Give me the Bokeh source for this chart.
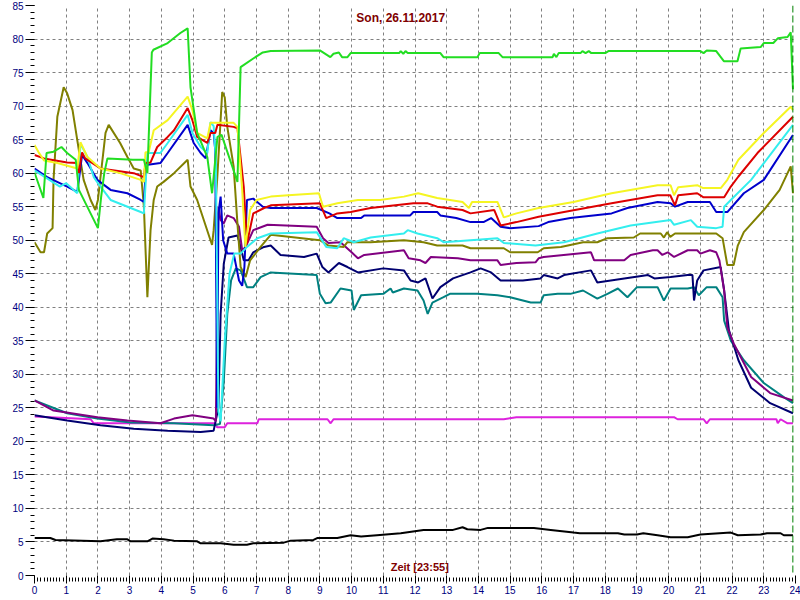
import math
from bokeh.plotting import figure
from bokeh.models import (Range1d, SingleIntervalTicker, FixedTicker, Span, Label)
from bokeh.embed import file_html
from bokeh.resources import INLINE

TITLE = "Son, 26.11.2017"
X_LABEL = "Zeit [23:55]"
Y_LABEL = "°C"
NOW_HOUR = 23 + 55 / 60

# (hour, °C) readings per sensor
green_pts = [(0.0, 60.1), (0.28, 56.3), (0.38, 63.0), (0.6, 63.2), (0.85, 63.9), (1.03, 63.0), (1.3, 62.0),
             (1.4, 57.5), (2.0, 51.8), (2.1, 56.4), (2.2, 60.0), (2.3, 62.2), (3.1, 62.0), (3.45, 62.0),
             (3.56, 60.0), (3.7, 78.0), (3.75, 78.4), (4.2, 79.4), (4.6, 80.9), (4.83, 81.6), (4.92, 72.8),
             (5.13, 66.0), (5.45, 62.4), (5.6, 57.0), (5.77, 65.4), (5.9, 65.7), (6.28, 60.4), (6.4, 58.7),
             (6.5, 75.8), (6.9, 77.1), (7.2, 78.0), (7.45, 78.2), (9.0, 78.3), (9.33, 77.3), (9.43, 77.8),
             (9.6, 78.0), (9.7, 77.3), (9.87, 77.3), (9.97, 77.9), (11.5, 77.9), (11.55, 78.2), (11.63, 77.8),
             (11.7, 78.2), (11.77, 77.9), (12.8, 77.9), (12.9, 77.3), (13.97, 77.3), (14.04, 77.9),
             (14.64, 77.9), (14.76, 77.3), (16.34, 77.3), (16.38, 77.8), (16.46, 77.3), (16.53, 77.9),
             (17.22, 77.9), (17.28, 78.2), (17.38, 77.9), (17.48, 78.2), (17.56, 77.9), (18.0, 77.9),
             (18.1, 78.2), (21.0, 78.2), (21.1, 77.9), (21.2, 78.3), (21.5, 78.2), (21.74, 76.7),
             (22.17, 76.7), (22.27, 78.6), (22.9, 78.8), (23.0, 79.4), (23.3, 79.4), (23.44, 80.1),
             (23.75, 80.3), (23.85, 81.0), (23.92, 72.5)]

yellow_pts = [(0.0, 64.2), (0.13, 63.1), (0.3, 61.9), (0.72, 61.5), (1.35, 60.7), (1.45, 64.6), (1.67, 62.4),
              (2.08, 60.7), (2.7, 60.0), (3.35, 59.0), (3.45, 58.7), (3.5, 63.1), (3.6, 63.1), (3.76, 66.4),
              (4.2, 67.9), (4.83, 71.4), (4.98, 69.4), (5.13, 66.0), (5.45, 65.2), (5.55, 67.5), (5.87, 67.5),
              (6.28, 67.5), (6.4, 66.9), (6.55, 57.5), (6.65, 49.0), (6.8, 54.5), (7.0, 56.0), (7.45, 56.5),
              (8.0, 56.7), (8.97, 57.0), (9.1, 55.0), (9.55, 55.5), (10.2, 56.0), (10.9, 56.0), (11.65, 56.5),
              (12.1, 57.0), (12.7, 56.3), (13.5, 55.7), (13.7, 54.8), (13.8, 55.7), (14.6, 55.7), (14.8, 53.4),
              (15.2, 54.0), (15.9, 54.8), (17.0, 55.7), (18.2, 57.0), (19.65, 58.2), (20.06, 58.2),
              (20.17, 56.7), (20.3, 57.9), (20.9, 58.2), (21.07, 57.8), (21.65, 57.8), (21.85, 59.0),
              (22.2, 62.0), (23.0, 66.0), (23.85, 69.9), (23.92, 69.4)]

red_pts = [(0.0, 62.7), (0.3, 62.2), (1.03, 61.6), (1.35, 61.5), (1.4, 60.0), (1.5, 63.1), (1.6, 62.2),
           (2.08, 60.7), (3.13, 60.0), (3.45, 59.4), (3.5, 61.5), (3.66, 61.6), (3.87, 63.9), (4.2, 65.4),
           (4.4, 66.4), (4.83, 69.7), (4.98, 67.9), (5.13, 65.4), (5.45, 64.5), (5.55, 66.0), (5.7, 66.0),
           (5.77, 67.2), (6.28, 66.9), (6.4, 66.7), (6.6, 57.9), (6.7, 49.5), (6.9, 54.0), (7.24, 54.8),
           (7.45, 55.2), (9.0, 55.5), (9.2, 53.3), (9.55, 54.0), (9.97, 54.2), (10.6, 54.8), (11.95, 55.5),
           (12.4, 55.5), (12.7, 55.0), (13.5, 54.5), (13.75, 54.0), (14.5, 54.5), (14.7, 52.2), (15.2, 52.7),
           (15.9, 53.5), (16.7, 54.2), (18.2, 55.5), (19.65, 56.7), (20.05, 56.7), (20.2, 55.2), (20.3, 56.7),
           (20.9, 57.0), (21.1, 56.4), (21.75, 56.4), (21.96, 58.0), (22.2, 59.5), (22.8, 63.0), (23.92, 68.4)]

cyan_pts = [(0.0, 60.4), (0.8, 58.0), (1.0, 58.5), (1.35, 57.0), (1.45, 64.4), (1.67, 62.4), (1.87, 59.4),
            (2.0, 58.5), (2.4, 56.0), (3.35, 54.2), (3.45, 54.0), (3.56, 63.0), (3.97, 63.0), (4.2, 64.5),
            (4.83, 68.7), (4.98, 66.0), (5.24, 63.9), (5.45, 63.0), (5.55, 67.6), (5.65, 67.0), (5.72, 62.0),
            (5.8, 24.5), (5.87, 23.0), (6.0, 35.0), (6.15, 45.0), (6.3, 48.0), (6.5, 48.0), (6.7, 49.0),
            (7.03, 50.3), (7.45, 51.0), (8.9, 51.2), (9.2, 49.0), (9.55, 48.8), (9.75, 50.3), (10.07, 49.7),
            (10.6, 50.4), (11.65, 51.0), (11.77, 51.5), (12.08, 51.0), (12.7, 50.3), (12.9, 49.7),
            (14.6, 50.3), (14.8, 49.6), (15.8, 49.2), (16.7, 49.7), (17.75, 51.0), (18.8, 52.2),
            (20.06, 53.0), (20.17, 52.3), (20.7, 53.0), (20.9, 52.0), (21.5, 51.8), (21.7, 52.0),
            (21.75, 55.0), (21.96, 56.0), (22.6, 59.0), (23.92, 67.2)]

blue_pts = [(0.0, 60.7), (0.4, 59.4), (1.03, 58.0), (1.35, 57.2), (1.5, 62.7), (1.67, 61.5), (1.98, 59.0),
            (2.4, 57.5), (2.93, 57.0), (3.35, 56.0), (3.45, 55.7), (3.52, 61.2), (3.97, 61.5), (4.2, 63.0),
            (4.83, 67.2), (5.02, 64.5), (5.24, 63.0), (5.4, 62.2), (5.55, 66.4), (5.65, 66.0), (5.7, 63.4),
            (5.76, 25.0), (5.8, 54.0), (5.87, 56.5), (5.95, 50.0), (6.08, 48.0), (6.28, 48.0), (6.45, 44.0),
            (6.55, 43.2), (6.62, 46.0), (6.7, 56.0), (6.9, 56.2), (7.2, 55.0), (7.45, 54.8), (8.9, 54.8),
            (9.3, 54.0), (9.55, 53.3), (10.3, 53.3), (10.4, 53.7), (11.85, 53.7), (11.95, 54.2), (12.7, 54.2),
            (12.8, 53.7), (13.3, 53.3), (13.75, 52.7), (14.16, 52.7), (14.4, 53.3), (14.7, 52.0), (15.0, 51.8),
            (15.9, 52.1), (16.2, 52.7), (16.9, 53.3), (18.2, 54.0), (18.7, 54.8), (19.65, 55.7), (20.06, 55.5),
            (20.2, 55.0), (20.6, 55.7), (21.3, 55.7), (21.5, 54.2), (21.85, 54.2), (22.37, 57.0), (23.0, 59.0),
            (23.92, 65.7)]

olive_pts = [(0.0, 49.7), (0.19, 48.2), (0.3, 48.2), (0.4, 51.0), (0.57, 51.8), (0.6, 59.0), (0.72, 68.4),
             (0.92, 72.8), (1.03, 71.9), (1.2, 69.4), (1.4, 63.4), (1.55, 59.0), (1.77, 56.0), (1.92, 54.5),
             (2.0, 56.0), (2.24, 66.0), (2.34, 67.2), (2.7, 64.5), (2.93, 62.4), (3.13, 60.7), (3.35, 60.4),
             (3.45, 55.0), (3.56, 41.5), (3.66, 51.5), (3.76, 56.0), (3.87, 58.0), (4.07, 58.7), (4.4, 60.0),
             (4.83, 62.0), (4.92, 58.0), (5.13, 56.0), (5.55, 50.0), (5.6, 49.3), (5.65, 51.5), (5.76, 59.0),
             (5.92, 72.1), (6.0, 71.3), (6.08, 66.9), (6.28, 61.0), (6.4, 52.5), (6.5, 46.0), (6.66, 44.5),
             (6.8, 47.0), (7.13, 49.0), (7.45, 50.8), (9.0, 50.0), (9.27, 49.2), (9.75, 49.0), (9.87, 49.7),
             (10.6, 49.7), (11.65, 50.0), (12.27, 49.7), (12.7, 49.2), (13.5, 49.2), (13.75, 48.8),
             (14.8, 48.8), (15.0, 48.2), (15.87, 48.2), (16.06, 48.8), (16.6, 49.0), (17.3, 49.7),
             (17.75, 49.7), (18.07, 50.3), (18.9, 50.4), (19.1, 51.0), (19.75, 51.0), (19.85, 50.4),
             (19.95, 51.2), (20.05, 50.5), (20.2, 51.0), (21.5, 51.0), (21.7, 50.3), (21.85, 46.3),
             (22.05, 46.3), (22.18, 49.2), (22.37, 51.2), (23.0, 54.5), (23.5, 57.5), (23.85, 61.0),
             (23.92, 57.0)]

purple_pts = [(0.0, 26.1), (0.6, 24.6), (1.98, 23.6), (2.93, 23.1), (3.97, 22.7), (4.4, 23.4), (4.98, 23.9),
              (5.65, 23.4), (5.72, 23.0), (5.76, 40.0), (5.8, 55.0), (5.87, 53.0), (5.97, 52.5), (6.08, 53.7),
              (6.28, 53.3), (6.45, 52.0), (6.55, 48.5), (6.66, 49.0), (6.9, 51.5), (7.35, 52.3), (8.9, 52.0),
              (9.1, 50.3), (9.27, 49.6), (9.65, 49.7), (10.0, 48.2), (10.2, 47.3), (10.4, 47.8), (11.65, 48.5),
              (11.8, 47.3), (12.17, 47.0), (12.33, 46.6), (12.5, 47.5), (13.35, 47.3), (13.75, 47.0),
              (14.6, 47.0), (14.7, 46.3), (15.2, 46.6), (15.8, 46.7), (15.9, 47.3), (16.06, 47.5),
              (17.55, 48.2), (17.65, 47.0), (18.6, 47.0), (18.8, 47.8), (19.5, 48.5), (19.65, 48.5),
              (19.8, 47.8), (19.97, 48.2), (20.17, 47.5), (20.6, 48.5), (20.9, 48.5), (21.0, 48.0),
              (21.3, 48.5), (21.5, 48.2), (21.6, 47.0), (21.75, 42.5), (21.85, 37.0), (22.05, 34.6),
              (22.6, 29.6), (23.2, 27.2), (23.92, 26.1)]

navy_pts = [(0.0, 23.9), (1.03, 23.1), (2.08, 22.4), (3.13, 21.9), (4.2, 21.6), (5.24, 21.4), (5.65, 21.6),
            (5.8, 25.0), (5.87, 39.0), (5.97, 46.5), (6.12, 50.4), (6.4, 50.7), (6.5, 49.0), (6.6, 47.0),
            (6.75, 47.0), (6.9, 48.2), (7.24, 49.0), (7.45, 49.2), (7.76, 47.8), (8.5, 47.5), (8.9, 48.0),
            (9.08, 46.0), (9.27, 45.2), (9.6, 46.6), (9.87, 46.0), (10.2, 45.2), (11.0, 45.8), (11.65, 45.5),
            (11.86, 44.0), (12.1, 43.7), (12.33, 44.3), (12.55, 41.3), (12.8, 43.0), (13.2, 44.3),
            (13.75, 45.2), (14.07, 45.8), (14.4, 45.2), (14.7, 44.0), (15.4, 44.0), (15.96, 44.3),
            (16.06, 44.8), (16.5, 44.3), (16.7, 44.8), (17.55, 45.5), (17.75, 43.7), (18.6, 44.3),
            (19.35, 44.8), (19.55, 44.3), (20.06, 44.5), (20.6, 44.8), (20.75, 44.8), (20.8, 41.0),
            (20.9, 44.0), (21.1, 45.5), (21.64, 46.0), (21.75, 42.5), (21.9, 36.6), (22.2, 32.1),
            (22.6, 28.0), (23.2, 25.7), (23.92, 24.2)]

teal_pts = [(0.0, 26.1), (1.03, 24.2), (1.98, 23.4), (3.03, 22.8), (4.4, 22.7), (5.65, 22.4), (5.85, 22.6),
            (5.97, 29.0), (6.08, 39.0), (6.2, 44.0), (6.35, 45.8), (6.5, 45.5), (6.7, 43.0), (6.9, 43.0),
            (7.13, 44.5), (7.45, 45.2), (8.9, 44.8), (9.0, 42.0), (9.18, 40.6), (9.34, 40.7), (9.65, 42.8),
            (10.0, 42.5), (10.07, 39.6), (10.3, 41.8), (11.0, 42.0), (11.23, 42.8), (11.3, 42.2),
            (11.65, 42.8), (12.08, 42.5), (12.27, 41.0), (12.4, 39.0), (12.55, 40.7), (12.9, 41.5),
            (13.1, 42.0), (13.97, 42.0), (14.6, 41.8), (15.0, 41.5), (15.65, 40.7), (15.96, 40.7),
            (16.06, 41.8), (16.5, 42.0), (16.9, 42.0), (17.3, 42.5), (17.75, 41.3), (18.07, 42.0),
            (18.4, 42.8), (18.7, 41.5), (19.0, 43.0), (19.65, 43.0), (19.85, 41.0), (20.06, 42.8),
            (20.6, 42.8), (20.8, 43.0), (20.95, 41.8), (21.2, 43.0), (21.5, 43.0), (21.7, 41.5),
            (21.75, 38.0), (21.96, 35.0), (22.37, 32.1), (23.0, 28.7), (23.63, 26.6), (23.92, 25.7)]

magenta_pts = [(0.0, 23.7), (0.5, 23.6), (1.77, 23.3), (1.87, 22.7), (5.7, 22.7), (5.76, 22.1), (6.0, 22.1),
               (6.08, 22.7), (7.03, 22.7), (7.07, 23.3), (9.24, 23.3), (9.34, 22.7), (9.43, 23.3),
               (14.8, 23.3), (15.2, 23.6), (20.17, 23.6), (20.28, 23.3), (21.1, 23.3), (21.2, 22.7),
               (21.3, 23.3), (23.4, 23.3), (23.44, 22.7), (23.53, 23.3), (23.75, 22.7), (23.92, 22.7)]

black_pts = [(0.0, 5.6), (0.5, 5.6), (0.66, 5.3), (2.08, 5.1), (2.6, 5.4), (2.93, 5.4), (3.03, 5.1),
             (3.56, 5.1), (3.72, 5.5), (4.07, 5.4), (4.4, 5.2), (5.13, 5.1), (5.24, 4.8), (5.87, 4.8),
             (6.28, 4.6), (6.7, 4.6), (6.9, 4.8), (7.86, 4.9), (8.08, 5.2), (8.8, 5.3), (8.93, 5.6),
             (9.55, 5.6), (9.97, 6.0), (10.3, 5.8), (10.8, 6.0), (11.55, 6.3), (12.27, 6.8), (13.2, 6.8),
             (13.5, 7.2), (13.65, 6.9), (14.07, 6.8), (14.3, 7.1), (15.75, 7.1), (16.28, 6.8), (17.0, 6.4),
             (17.2, 6.3), (18.4, 6.3), (18.6, 6.1), (19.0, 6.1), (19.2, 6.3), (19.65, 6.0), (20.06, 5.7),
             (20.6, 5.7), (21.0, 6.1), (21.96, 6.4), (22.18, 6.0), (22.9, 6.1), (23.1, 6.3), (23.53, 6.3),
             (23.63, 6.0), (23.92, 6.0)]

series = [
    (black_pts, "#000000"),
    (magenta_pts, "#DD22DD"),
    (teal_pts, "#008080"),
    (navy_pts, "#000070"),
    (purple_pts, "#800080"),
    (olive_pts, "#808000"),
    (blue_pts, "#0000CC"),
    (cyan_pts, "#33EEEE"),
    (red_pts, "#DD0000"),
    (yellow_pts, "#F5F522"),
    (green_pts, "#22DD22"),
]

X_MIN, X_MAX = 0, 24
Y_MIN, Y_MAX = 0, 85

p = figure(width=800, height=600, output_backend="svg", toolbar_location=None,
           x_range=Range1d(X_MIN, X_MAX), y_range=Range1d(Y_MIN, Y_MAX),
           min_border_left=34, min_border_right=5, min_border_top=5, min_border_bottom=25)
p.outline_line_color = None
p.background_fill_color = "white"
p.border_fill_color = "white"

# grid
p.xgrid.ticker = FixedTicker(ticks=list(range(X_MIN + 1, X_MAX)))
p.ygrid.ticker = FixedTicker(ticks=list(range(Y_MIN + 5, Y_MAX, 5)))
for g in (p.xgrid, p.ygrid):
    g.grid_line_color = "#808080"
    g.grid_line_dash = "3 3"
    g.grid_line_width = 1

# axes
xa = p.xaxis[0]
xa.ticker = SingleIntervalTicker(interval=1, num_minor_ticks=10)
xa.axis_line_color = None
xa.major_tick_in = 0
xa.major_tick_out = 8
xa.minor_tick_in = -2
xa.minor_tick_out = 6
xa.major_tick_line_color = "black"
xa.minor_tick_line_color = "black"
xa.major_label_standoff = 2
xa.major_label_text_font = "Liberation Sans"
xa.major_label_text_font_size = "10px"
xa.major_label_text_color = "#000080"

ya = p.yaxis[0]
ya.ticker = SingleIntervalTicker(interval=5, num_minor_ticks=5)
ya.axis_line_color = None
ya.major_tick_in = 0
ya.major_tick_out = 9
ya.minor_tick_in = 0
ya.minor_tick_out = 4
ya.major_tick_line_color = "black"
ya.minor_tick_line_color = "black"
ya.major_label_standoff = 2
ya.major_label_text_font = "Liberation Sans"
ya.major_label_text_font_size = "10px"
ya.major_label_text_color = "#000080"

for pts, color in series:
    xs = [a for a, b in pts]
    ys = [b for a, b in pts]
    p.line(xs, ys, line_color=color, line_width=2)

p.add_layout(Span(location=NOW_HOUR, dimension="height", line_color="#008000",
                  line_dash="7 3", line_width=1))

p.add_layout(Label(x=11.55, y=83.2, text=TITLE, text_align="center", text_baseline="middle",
                   text_font="Liberation Sans", text_font_size="12px", text_font_style="bold",
                   text_color="#800000"))
p.add_layout(Label(x=12.15, y=0.3, text=X_LABEL, text_align="center", text_baseline="bottom",
                   text_font="Liberation Sans", text_font_size="11px", text_font_style="bold",
                   text_color="#800000"))
p.add_layout(Label(x=-0.74, y=42.5, text=Y_LABEL, text_align="center", text_baseline="middle",
                   angle=math.pi / 2, text_font="Liberation Sans", text_font_size="11px",
                   text_color="#800000"))

open("out.html", "w").write(file_html(p, INLINE))
